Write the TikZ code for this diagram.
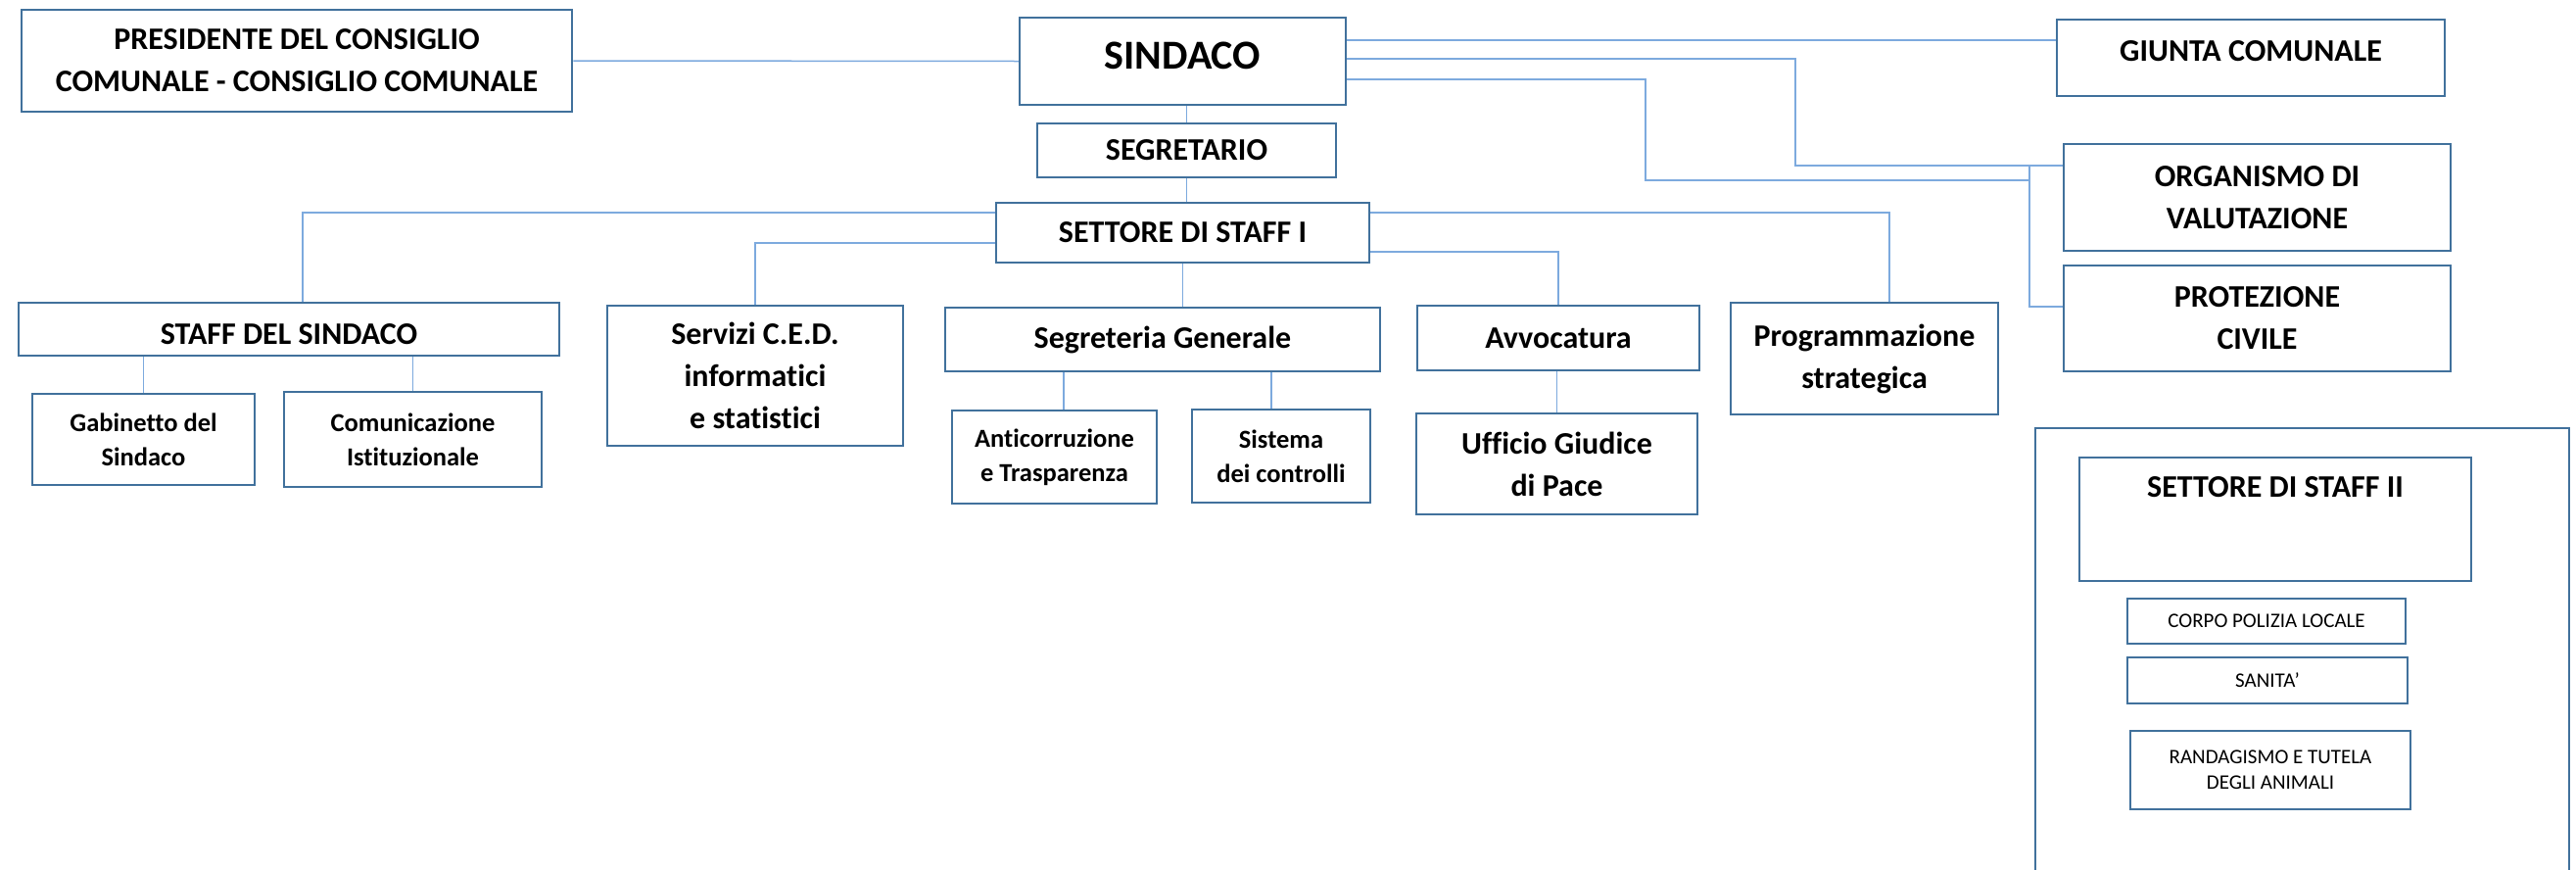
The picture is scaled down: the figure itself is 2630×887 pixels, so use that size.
\documentclass[tikz,border=0pt]{standalone}
\usepackage{fontspec}
\setmainfont{Carlito}[Ligatures=NoCommon]
\usepackage{tikz}
\usepackage{xcolor}
\definecolor{boxblue}{RGB}{65,113,156}
\definecolor{lineblue}{RGB}{125,170,222}

\begin{document}
\begin{tikzpicture}[x=1pt, y=-1pt,
  frame/.style={draw=boxblue, line width=2.5pt},
  box/.style={frame, fill=white, align=center, inner sep=0pt,
    font=\bfseries\fontsize{32}{43}\selectfont},
  smallbox/.style={box, font=\bfseries\fontsize{26.5}{35}\selectfont},
  plainbox/.style={box, font=\fontsize{21}{26}\selectfont},
  conn/.style={draw=lineblue, line width=1.5pt}]
  \useasboundingbox (0,0) rectangle (2630,887);

  % Top row: council, mayor, junta
  \node[box, minimum width=562pt, minimum height=104pt] (pres) at (303,62)
    {PRESIDENTE DEL CONSIGLIO\\COMUNALE - CONSIGLIO COMUNALE};
  \node[box, minimum width=333pt, minimum height=89pt, text depth=11pt,
    font=\bfseries\fontsize{42}{50}\selectfont] (sindaco) at (1207.5,62.5) {SINDACO};
  \node[box, minimum width=396pt, minimum height=78pt, text depth=14pt] (giunta) at (2298,59)
    {GIUNTA COMUNALE};
  \node[box, minimum width=305pt, minimum height=55pt] (segr) at (1211.5,153.5) {SEGRETARIO};
  \node[box, minimum width=381pt, minimum height=61pt] (staffA) at (1207.5,237.5)
    {SETTORE DI STAFF I};
  \node[box, minimum width=395pt, minimum height=109pt] (oiv) at (2304.5,201.5)
    {ORGANISMO DI\\VALUTAZIONE};
  \node[box, minimum width=395pt, minimum height=108pt] (protciv) at (2304.5,325)
    {PROTEZIONE\\CIVILE};

  % Second row: offices under the staff sector
  \node[box, minimum width=552pt, minimum height=54pt, text height=32pt] (staffsind) at (295,336)
    {STAFF DEL SINDACO};
  \node[box, minimum width=302pt, minimum height=143pt] (ced) at (771,383.5)
    {Servizi C.E.D.\\informatici\\e statistici};
  \node[box, minimum width=444pt, minimum height=65pt] (seggen) at (1187,346.5)
    {Segreteria Generale};
  \node[box, minimum width=288pt, minimum height=66pt] (avvoc) at (1591,345) {Avvocatura};
  \node[box, minimum width=273pt, minimum height=114pt] (progr) at (1903.5,366)
    {Programmazione\\strategica};

  % Third row: units
  \node[smallbox, minimum width=227pt, minimum height=93pt] (gabinetto) at (146.5,448.5)
    {Gabinetto del\\Sindaco};
  \node[smallbox, minimum width=263pt, minimum height=97pt] (comunic) at (421.5,448.5)
    {Comunicazione\\Istituzionale};
  \node[smallbox, minimum width=209pt, minimum height=95pt] (anticorr) at (1076.5,466.5)
    {Anticorruzione\\e Trasparenza};
  \node[smallbox, minimum width=182pt, minimum height=95pt] (controlli) at (1308,465.5)
    {Sistema\\dei controlli};
  \node[box, minimum width=287pt, minimum height=103pt] (giudice) at (1589.5,473.5)
    {Ufficio Giudice\\di Pace};

  % Settore di staff II with its services
  \draw[frame] (2078,895) -- (2078,437) -- (2623,437) -- (2623,895);
  \node[box, minimum width=400pt, minimum height=126pt,
    label={[anchor=north, inner sep=0pt, yshift=-21pt,
      font=\bfseries\fontsize{32}{43}\selectfont]north:SETTORE DI STAFF II}] (staffB) at (2323,530) {};
  \node[plainbox, minimum width=284pt, minimum height=46pt] (polizia) at (2314,634)
    {CORPO POLIZIA LOCALE};
  \node[plainbox, minimum width=286pt, minimum height=47pt] (sanita) at (2315,694.5) {SANITA’};
  \node[plainbox, minimum width=286pt, minimum height=80pt] (randag) at (2318,786)
    {RANDAGISMO E TUTELA\\DEGLI ANIMALI};

  % Connectors from the mayor
  \draw[conn] (pres.east) -- (sindaco.west);
  \draw[conn] (sindaco.east |- 0,41) -- (giunta.west |- 0,41);
  \draw[conn] (sindaco.east |- 0,60) -| (1833,169) -- (oiv.west |- 0,169);
  \draw[conn] (sindaco.east |- 0,81) -| (1680,184) -- (2072,184);
  \draw[conn] (2072,169) |- (protciv.west |- 0,313);
  \draw[conn] (segr.north |- sindaco.south) -- (segr.north);
  \draw[conn] (segr.south) -- (segr.south |- staffA.north);

  % Connectors from settore di staff I
  \draw[conn] (staffA.west |- 0,217) -| (309,0 |- staffsind.north);
  \draw[conn] (staffA.west |- 0,248) -| (ced.north);
  \draw[conn] (staffA.south) -- (staffA.south |- seggen.north);
  \draw[conn] (staffA.east |- 0,257) -| (avvoc.north);
  \draw[conn] (staffA.east |- 0,217) -| (1929,0 |- progr.north);

  % Connectors to the units
  \draw[conn] (gabinetto.north |- staffsind.south) -- (gabinetto.north);
  \draw[conn] (comunic.north |- staffsind.south) -- (comunic.north);
  \draw[conn] (1086,0 |- seggen.south) -- (1086,0 |- anticorr.north);
  \draw[conn] (1298,0 |- seggen.south) -- (1298,0 |- controlli.north);
  \draw[conn] (giudice.north |- avvoc.south) -- (giudice.north);
\end{tikzpicture}
\end{document}
